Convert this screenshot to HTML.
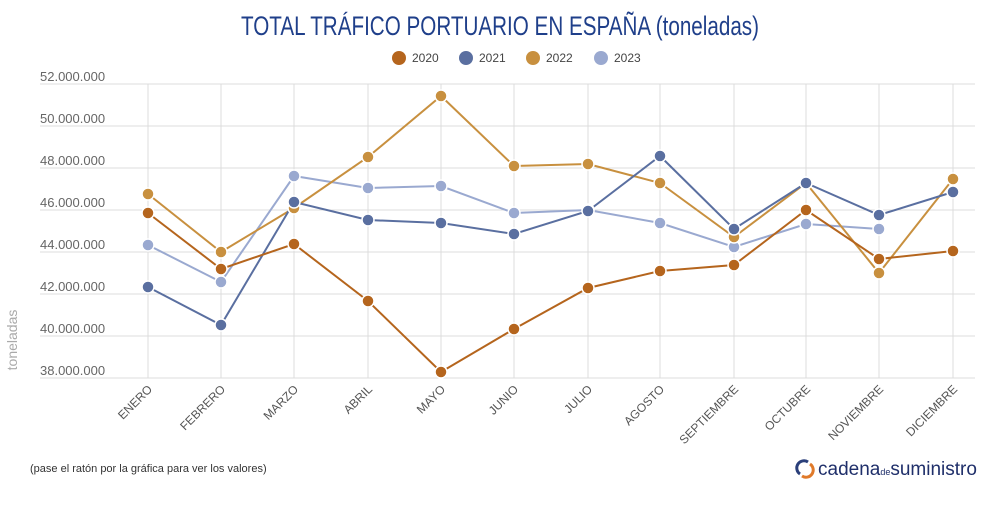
<!DOCTYPE html>
<html><head><meta charset="utf-8"><style>
body{margin:0;background:#fff;width:1000px;height:500px;overflow:hidden;font-family:"Liberation Sans",sans-serif}
</style></head><body>
<svg width="1000" height="500" xmlns="http://www.w3.org/2000/svg" font-family="Liberation Sans, sans-serif">
<text x="500" y="35" text-anchor="middle" font-size="27" fill="#1f3f8a" font-family="Liberation Sans Narrow, Liberation Sans, sans-serif" textLength="518" lengthAdjust="spacingAndGlyphs">TOTAL TRÁFICO PORTUARIO EN ESPAÑA (toneladas)</text>
<g font-size="12" fill="#444">
<circle cx="399" cy="58" r="7" fill="#b5651d"/><text x="412" y="62">2020</text>
<circle cx="466" cy="58" r="7" fill="#5a6fa0"/><text x="479" y="62">2021</text>
<circle cx="533" cy="58" r="7" fill="#c8903f"/><text x="546" y="62">2022</text>
<circle cx="601" cy="58" r="7" fill="#9aa9d0"/><text x="614" y="62">2023</text>
</g>
<g stroke="#dcdcdc" stroke-width="1">
<line x1="40" x2="975" y1="84" y2="84"/><line x1="40" x2="975" y1="126" y2="126"/><line x1="40" x2="975" y1="168" y2="168"/><line x1="40" x2="975" y1="210" y2="210"/><line x1="40" x2="975" y1="252" y2="252"/><line x1="40" x2="975" y1="294" y2="294"/><line x1="40" x2="975" y1="336" y2="336"/><line x1="40" x2="975" y1="378" y2="378"/>
<line x1="148" x2="148" y1="84" y2="378"/><line x1="221" x2="221" y1="84" y2="378"/><line x1="294" x2="294" y1="84" y2="378"/><line x1="368" x2="368" y1="84" y2="378"/><line x1="441" x2="441" y1="84" y2="378"/><line x1="514" x2="514" y1="84" y2="378"/><line x1="588" x2="588" y1="84" y2="378"/><line x1="660" x2="660" y1="84" y2="378"/><line x1="734" x2="734" y1="84" y2="378"/><line x1="806" x2="806" y1="84" y2="378"/><line x1="879" x2="879" y1="84" y2="378"/><line x1="953" x2="953" y1="84" y2="378"/>
</g>
<g font-size="13" fill="#666">
<text x="40" y="81">52.000.000</text><text x="40" y="123">50.000.000</text><text x="40" y="165">48.000.000</text><text x="40" y="207">46.000.000</text><text x="40" y="249">44.000.000</text><text x="40" y="291">42.000.000</text><text x="40" y="333">40.000.000</text><text x="40" y="375">38.000.000</text>
</g>
<text transform="translate(17,340) rotate(-90)" text-anchor="middle" font-size="14" fill="#aaa">toneladas</text>
<g font-size="12" fill="#555" text-anchor="end">
<text transform="translate(153,390) rotate(-45)">ENERO</text>
<text transform="translate(226,390) rotate(-45)">FEBRERO</text>
<text transform="translate(299,390) rotate(-45)">MARZO</text>
<text transform="translate(373,390) rotate(-45)">ABRIL</text>
<text transform="translate(446,390) rotate(-45)">MAYO</text>
<text transform="translate(519,390) rotate(-45)">JUNIO</text>
<text transform="translate(593,390) rotate(-45)">JULIO</text>
<text transform="translate(665,390) rotate(-45)">AGOSTO</text>
<text transform="translate(739,390) rotate(-45)">SEPTIEMBRE</text>
<text transform="translate(811,390) rotate(-45)">OCTUBRE</text>
<text transform="translate(884,390) rotate(-45)">NOVIEMBRE</text>
<text transform="translate(958,390) rotate(-45)">DICIEMBRE</text>
</g>
<g fill="none" stroke-width="2">
<polyline stroke="#9aa9d0" points="148,245 221,282 294,176 368,188 441,186 514,213 588,210 660,223 734,247 806,224 879,229"/>
<polyline stroke="#c8903f" points="148,194 221,252 294,208 368,157 441,96 514,166 588,164 660,183 734,237 806,183 879,273 953,179"/>
<polyline stroke="#5a6fa0" points="148,287 221,325 294,202 368,220 441,223 514,234 588,211 660,156 734,229 806,183 879,215 953,192"/>
<polyline stroke="#b5651d" points="148,213 221,269 294,244 368,301 441,372 514,329 588,288 660,271 734,265 806,210 879,259 953,251"/>
</g>
<g stroke="#fff" stroke-width="1.5">
<g fill="#9aa9d0"><circle cx="148" cy="245" r="6"/><circle cx="221" cy="282" r="6"/><circle cx="294" cy="176" r="6"/><circle cx="368" cy="188" r="6"/><circle cx="441" cy="186" r="6"/><circle cx="514" cy="213" r="6"/><circle cx="588" cy="210" r="6"/><circle cx="660" cy="223" r="6"/><circle cx="734" cy="247" r="6"/><circle cx="806" cy="224" r="6"/><circle cx="879" cy="229" r="6"/></g>
<g fill="#c8903f"><circle cx="148" cy="194" r="6"/><circle cx="221" cy="252" r="6"/><circle cx="294" cy="208" r="6"/><circle cx="368" cy="157" r="6"/><circle cx="441" cy="96" r="6"/><circle cx="514" cy="166" r="6"/><circle cx="588" cy="164" r="6"/><circle cx="660" cy="183" r="6"/><circle cx="734" cy="237" r="6"/><circle cx="806" cy="183" r="6"/><circle cx="879" cy="273" r="6"/><circle cx="953" cy="179" r="6"/></g>
<g fill="#5a6fa0"><circle cx="148" cy="287" r="6"/><circle cx="221" cy="325" r="6"/><circle cx="294" cy="202" r="6"/><circle cx="368" cy="220" r="6"/><circle cx="441" cy="223" r="6"/><circle cx="514" cy="234" r="6"/><circle cx="588" cy="211" r="6"/><circle cx="660" cy="156" r="6"/><circle cx="734" cy="229" r="6"/><circle cx="806" cy="183" r="6"/><circle cx="879" cy="215" r="6"/><circle cx="953" cy="192" r="6"/></g>
<g fill="#b5651d"><circle cx="148" cy="213" r="6"/><circle cx="221" cy="269" r="6"/><circle cx="294" cy="244" r="6"/><circle cx="368" cy="301" r="6"/><circle cx="441" cy="372" r="6"/><circle cx="514" cy="329" r="6"/><circle cx="588" cy="288" r="6"/><circle cx="660" cy="271" r="6"/><circle cx="734" cy="265" r="6"/><circle cx="806" cy="210" r="6"/><circle cx="879" cy="259" r="6"/><circle cx="953" cy="251" r="6"/></g>
</g>
<text x="30" y="472" font-size="11" fill="#333">(pase el ratón por la gráfica para ver los valores)</text>
<g fill="none" stroke-width="3">
<path d="M808 462 A7 7 0 0 0 800 474" stroke="#2a3f7a"/>
<path d="M802 476 A7 7 0 0 0 810 464" stroke="#e07a2a"/>
</g>
<text x="818" y="475" font-size="19" fill="#1f2f6a">cadena<tspan font-size="9">de</tspan>suministro</text>
</svg>
</body></html>
